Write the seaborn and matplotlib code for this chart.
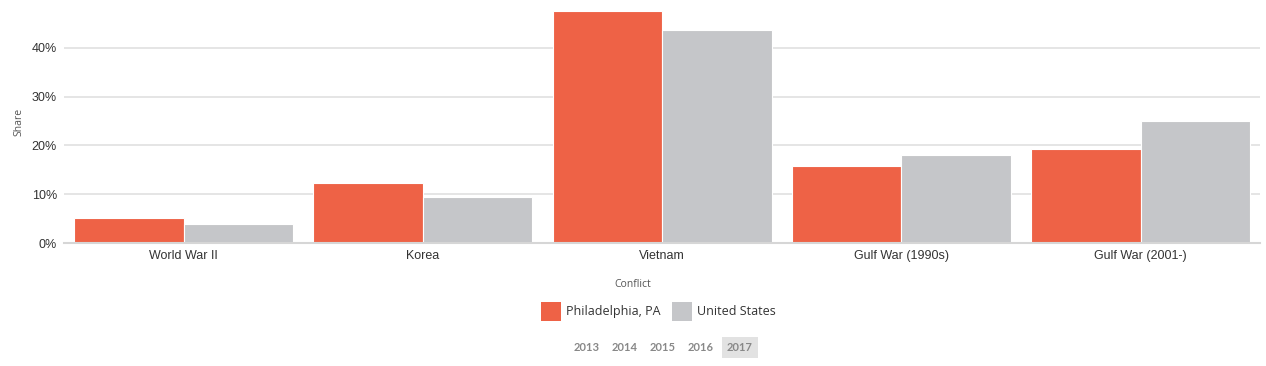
import matplotlib.pyplot as plt
import pandas as pd
import seaborn as sns
from matplotlib.patches import Patch
from matplotlib.ticker import PercentFormatter


conflicts = ["World War II", "Korea", "Vietnam", "Gulf War (1990s)", "Gulf War (2001-)"]
philadelphia = [5.1, 12.4, 47.5, 15.8, 19.2]
united_states = [3.8, 9.4, 43.6, 18.0, 25.0]
series_names = ["Philadelphia, PA", "United States"]
years = ["2013", "2014", "2015", "2016", "2017"]
selected_year = "2017"

colors = ["#EE6246", "#C5C6C9"]


def build_frame() -> pd.DataFrame:
    rows = []
    for name, values in zip(series_names, [philadelphia, united_states]):
        for conflict, value in zip(conflicts, values):
            rows.append({"conflict": conflict, "series": name, "share": value})
    return pd.DataFrame(rows)


def main() -> None:
    df = build_frame()
    sns.set_theme(style="white")
    plt.rcParams["font.family"] = ["Liberation Sans", "DejaVu Sans"]

    fig = plt.figure(figsize=(12.66, 3.66), dpi=100)
    ax = fig.add_axes([0.0505, 0.336, 0.945, 0.664])

    sns.barplot(
        data=df,
        x="conflict",
        y="share",
        hue="series",
        palette=colors,
        saturation=1,
        width=0.915,
        edgecolor="white",
        linewidth=0.8,
        ax=ax,
        legend=False,
    )

    ax.set_ylim(0, 49.8)
    ax.set_xlim(-0.5, len(conflicts) - 0.5)
    ax.set_yticks([0, 10, 20, 30, 40])
    ax.yaxis.set_major_formatter(PercentFormatter(decimals=0))
    ax.grid(axis="y", color="#E0E0E0", linewidth=1.2)
    ax.set_axisbelow(True)
    for side in ["top", "right", "left"]:
        ax.spines[side].set_visible(False)
    ax.spines["bottom"].set_color("#D6D6D6")
    ax.spines["bottom"].set_linewidth(1.5)
    ax.tick_params(axis="both", length=0, labelsize=9, colors="#333333")
    ax.tick_params(axis="x", pad=5)
    ax.tick_params(axis="y", pad=5)

    ax.set_xlabel("")
    ax.set_ylabel("Share", fontsize=7.5, color="#555555", family="Open Sans", labelpad=5)

    fig.text(0.5, 0.224, "Conflict", ha="center", va="center",
             fontsize=7.5, color="#555555", family="Open Sans")

    handles = [Patch(facecolor=c, edgecolor="none") for c in colors]
    fig.legend(
        handles,
        series_names,
        loc="center",
        bbox_to_anchor=(0.520, 0.149),
        ncol=2,
        frameon=False,
        prop={"family": "Open Sans", "size": 9},
        handlelength=1.6,
        handleheight=2.0,
        handletextpad=0.4,
        columnspacing=0.9,
        labelcolor="#333333",
    )

    x_positions = [0.4635, 0.4935, 0.5235, 0.5535, 0.5845]
    for year, x in zip(years, x_positions):
        box = None
        if year == selected_year:
            box = dict(boxstyle="square,pad=0.45", facecolor="#E2E2E2", edgecolor="none")
        fig.text(x, 0.05, year, ha="center", va="center", fontsize=8,
                 fontweight="bold", color="#888888", family="Lato", bbox=box)

    fig.savefig("out.png", dpi=100)
    plt.close(fig)


if __name__ == "__main__":
    main()
